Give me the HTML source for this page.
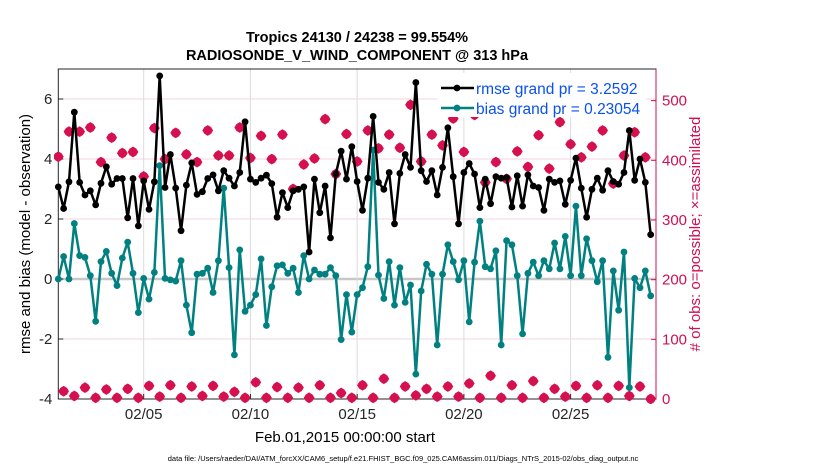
<!DOCTYPE html>
<html><head><meta charset="utf-8"><style>
body{margin:0;background:#fff;width:830px;height:470px;overflow:hidden}
svg text{font-family:"Liberation Sans",Arial,sans-serif}
</style></head><body>
<svg id="chart" width="830" height="470" viewBox="0 0 830 470">
<text x="357" y="42" text-anchor="middle" font-size="14.5" font-weight="bold">Tropics 24130 / 24238 = 99.554%</text>
<text x="357" y="60" text-anchor="middle" font-size="14.5" font-weight="bold">RADIOSONDE_V_WIND_COMPONENT @ 313 hPa</text>
<g id="grid"></g><g id="axes"></g>
<defs><clipPath id="pc"><rect x="54" y="66" width="608" height="338"/></clipPath></defs>
<g id="marks" clip-path="url(#pc)"></g>
<text transform="translate(30,234) rotate(-90)" text-anchor="middle" font-size="15">rmse and bias (model - observation)</text>
<text transform="translate(700,234) rotate(-90)" text-anchor="middle" font-size="15" fill="#d0104f"># of obs: o=possible; ×=assimilated</text>
<text x="345" y="442" text-anchor="middle" font-size="15">Feb.01,2015 00:00:00 start</text>
<text x="403" y="461" text-anchor="middle" font-size="7.5">data file: /Users/raeder/DAI/ATM_forcXX/CAM6_setup/f.e21.FHIST_BGC.f09_025.CAM6assim.011/Diags_NTrS_2015-02/obs_diag_output.nc</text>
<g>
<rect x="437" y="73" width="209" height="44" fill="#fff"/>
<g><line x1="441" y1="88" x2="474" y2="88" stroke="#000" stroke-width="2.5"/><circle cx="457" cy="88" r="3.4" fill="#000"/><text x="476" y="94" font-size="15.5" fill="#0a50f0">rmse grand pr = 3.2592</text></g>
<g><line x1="441" y1="108" x2="474" y2="108" stroke="#008080" stroke-width="2.5"/><circle cx="457" cy="108" r="3.4" fill="#008080"/><text x="476" y="114" font-size="15.5" fill="#0a50f0">bias grand pr = 0.23054</text></g>
</g>
</svg>
<script>
const rmse=[3.07,2.35,3.24,5.56,3.22,2.80,2.94,2.47,3.19,3.74,3.16,3.35,3.35,2.04,3.35,1.77,3.27,2.32,3.24,6.77,3.05,4.15,3.03,1.61,3.13,3.87,2.82,2.91,3.35,
3.47,2.94,3.61,3.36,3.10,3.55,5.24,3.33,3.22,3.36,3.46,3.18,2.06,2.88,2.38,2.94,2.99,3.07,0.90,3.33,2.21,3.10,1.37,3.50,4.26,3.33,4.41,
3.25,2.29,3.36,5.42,3.22,2.99,3.55,1.84,3.52,4.15,3.72,6.55,3.61,3.25,3.61,2.80,3.72,5.04,3.41,1.84,3.55,3.85,3.50,2.38,3.33,2.51,3.41,
3.36,3.38,2.40,3.44,2.43,3.47,3.10,3.05,2.29,3.33,3.22,3.27,2.49,3.29,4.03,3.03,2.06,2.99,3.36,2.96,3.61,3.25,3.16,3.55,4.95,3.29,4.00,3.22,1.48];
const bias=[0,0.75,0,1.85,0.78,0.72,0.11,-1.41,0.58,0.92,0.19,-0.22,0.70,1.23,0.19,-1.12,0.02,-0.67,0.22,3.78,0.02,-0.03,-0.07,0.61,-0.87,-1.79,0.16,0.19,0.36,
-0.45,0.61,3.03,0.38,-2.53,0.97,-1.08,-0.87,-0.52,0.67,-1.55,-0.26,0.44,0.47,0.19,0.36,-0.45,0.78,0,0.30,0.16,0.16,0.38,0.11,-2.02,-0.52,-1.77,
-0.52,-0.29,0.41,4.30,0.13,-0.65,0.58,-0.87,0.38,-0.78,-0.20,-3.17,-0.40,0.49,0.16,-2.20,0.16,1.14,0.58,-0.03,0.61,-1.43,0.56,1.93,0.41,0.34,0.94,
-2.20,1.28,1.14,0.11,-1.83,0.19,0.56,0.11,0.61,0.34,1.20,0.34,1.42,0.11,2.43,0.11,1.34,0.61,-0.09,0.61,-2.61,0.27,-1.04,0.90,-3.62,0.02,-0.29,0.27,-0.56];
const nobs=[406,13,448,5,448,19,455,2,397,16,438,2,412,17,414,2,373,22,454,4,402,23,446,2,410,21,397,5,450,22,
408,4,408,12,455,2,404,28,441,2,402,20,443,2,352,19,393,2,403,23,469,2,377,10,444,2,
398,23,450,2,420,34,443,2,421,21,493,6,398,17,443,4,425,21,470,4,414,26,476,2,363,39,397,
2,369,23,415,2,389,30,442,2,386,17,464,4,427,22,405,2,423,23,450,2,361,22,408,5,447,21,405,0];
const leftTicks=[-4,-2,0,2,4,6];
const rightTicks=[0,100,200,300,400,500];
const xTickDays=[5,10,15,20,25];
const xTickLabels=["02/05","02/10","02/15","02/20","02/25"];
const X0=58.3,X1=656,Y0=69,Y1=399;
const xs=d=>X0+(d-1)/(29-1)*(X1-X0);
const yl=v=>Y1-(v+4)/11*(Y1-Y0);
const yr=v=>Y1-v/553*(Y1-Y0);
const day=i=>1+i/4;
const NS='http://www.w3.org/2000/svg';
function mk(tag,attrs,parent){const e=document.createElementNS(NS,tag);for(const k in attrs)e.setAttribute(k,attrs[k]);parent.appendChild(e);return e;}
const grid=document.getElementById('grid'),axes=document.getElementById('axes'),marks=document.getElementById('marks');
leftTicks.forEach(v=>{if(v===-4)return;const l=mk('line',{x1:X0,x2:X1,y1:yl(v),y2:yl(v),stroke:v===0?'#c8c8c8':'#f5d3e0','stroke-width':v===0?2.5:1},grid);

});
xTickDays.forEach(d=>{const l=mk('line',{x1:xs(d),x2:xs(d),y1:Y0,y2:Y1,stroke:'#dcdcdc','stroke-width':1},grid);

});
mk('rect',{x:X0,y:Y0,width:X1-X0,height:Y1-Y0,fill:'none',stroke:'#262626','stroke-width':1},axes);
mk('line',{x1:X1,x2:X1,y1:Y0,y2:Y1,stroke:'#d0104f','stroke-width':1},axes);
leftTicks.forEach(v=>{mk('line',{x1:X0,x2:X0+5,y1:yl(v),y2:yl(v),stroke:'#262626'},axes);
const t=mk('text',{x:X0-6,y:yl(v)+5,'text-anchor':'end','font-size':15,fill:'#262626'},axes);t.textContent=v;

});
rightTicks.forEach(v=>{mk('line',{x1:X1-5,x2:X1,y1:yr(v),y2:yr(v),stroke:'#d0104f'},axes);
const t=mk('text',{x:X1+6,y:yr(v)+5,'font-size':15,fill:'#d0104f'},axes);t.textContent=v;

});
xTickDays.forEach((d,i)=>{mk('line',{x1:xs(d),x2:xs(d),y1:Y1-5,y2:Y1,stroke:'#262626'},axes);
const t=mk('text',{x:xs(d),y:Y1+20,'text-anchor':'middle','font-size':15,fill:'#262626'},axes);t.textContent=xTickLabels[i];

});
nobs.forEach((v,i)=>{const cx=xs(day(i)),cy=yr(v),s=4.8,q=s*0.62;
const p=`M${cx},${cy-s}L${cx+q},${cy-q}L${cx+s},${cy}L${cx+q},${cy+q}L${cx},${cy+s}L${cx-q},${cy+q}L${cx-s},${cy}L${cx-q},${cy-q}Z`;
const e=mk('path',{d:p,fill:'#d6104f',stroke:'#d6104f','stroke-width':1},marks);

});
function series(vals,color,name){
const pl=mk('polyline',{points:vals.map((v,i)=>xs(day(i))+','+yl(v)).join(' '),fill:'none',stroke:color,'stroke-width':2.5,'stroke-linejoin':'round'},marks);


vals.forEach((v,i)=>{const c=mk('circle',{cx:xs(day(i)),cy:yl(v),r:3.4,fill:color},marks);

});}
series(bias,'#008080','bias');
series(rmse,'#000000','rmse');
</script>
</body></html>
